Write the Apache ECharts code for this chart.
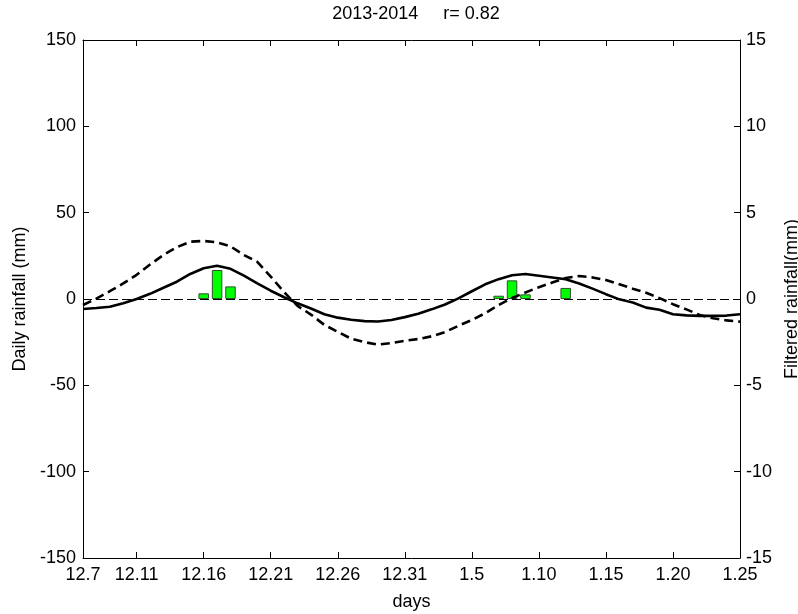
<!DOCTYPE html>
<html>
<head>
<meta charset="utf-8">
<script src="https://cdn.jsdelivr.net/npm/echarts@6/dist/echarts.min.js"></script>
<style>
html,body{margin:0;padding:0;background:#fff;}
#chart{width:798px;height:614px;}
</style>
</head>
<body>
<div id="chart"></div>
<script>
// Days (Dec 7, 2013 to Jan 25, 2014)
const days = ['12.7','12.8','12.9','12.10','12.11','12.12','12.13','12.14','12.15','12.16',
  '12.17','12.18','12.19','12.20','12.21','12.22','12.23','12.24','12.25','12.26',
  '12.27','12.28','12.29','12.30','12.31','1.1','1.2','1.3','1.4','1.5',
  '1.6','1.7','1.8','1.9','1.10','1.11','1.12','1.13','1.14','1.15',
  '1.16','1.17','1.18','1.19','1.20','1.21','1.22','1.23','1.24','1.25'];

// Daily rainfall (mm), left axis
const dailyRain = [null,null,null,null,null,null,null,null,null,3.3,
  16.8,7.3,null,null,null,null,null,null,null,null,
  null,null,null,null,null,null,null,null,null,null,
  null,1.9,10.8,2.7,null,null,6.4,null,null,null,
  null,null,null,null,null,null,null,null,null,null];

// Filtered series (right axis)
const solidSeries = [-0.58,-0.52,-0.45,-0.25,0.0,0.3,0.65,1.0,1.45,1.78,
  1.93,1.75,1.35,0.9,0.48,0.1,-0.25,-0.55,-0.88,-1.08,
  -1.2,-1.28,-1.3,-1.22,-1.05,-0.85,-0.6,-0.32,0.04,0.45,
  0.85,1.15,1.38,1.45,1.35,1.25,1.14,0.9,0.6,0.28,
  -0.02,-0.2,-0.5,-0.62,-0.88,-0.95,-0.98,-0.98,-0.96,-0.88];

const dashedSeries = [-0.35,0.02,0.45,0.9,1.4,2.0,2.55,3.0,3.32,3.36,
  3.28,3.05,2.55,2.15,1.3,0.4,-0.4,-0.9,-1.5,-1.9,
  -2.3,-2.5,-2.64,-2.55,-2.42,-2.32,-2.16,-1.92,-1.55,-1.22,
  -0.82,-0.35,0.06,0.38,0.68,0.95,1.22,1.33,1.25,1.1,
  0.85,0.6,0.36,0.05,-0.3,-0.6,-0.93,-1.12,-1.24,-1.31];

const leftTicks = {min:-150, max:150, interval:50};
const rightTicks = {min:-15, max:15, interval:5};
const titleText = '2013-2014     r= 0.82';

const FONT = "'Liberation Sans', Arial, Helvetica, sans-serif";
const tickShown = (i) => i === 0 || (i + 1) % 5 === 0;

const chart = echarts.init(document.getElementById('chart'), null, {renderer:'canvas'});
chart.setOption({
  animation:false,
  backgroundColor:'#fff',
  title:{
    text:titleText, left:411, top:0, textAlign:'center',
    textStyle:{fontFamily:FONT, fontSize:18, fontWeight:'normal', color:'#000'}
  },
  grid:{left:83, right:58, top:40, bottom:56, containLabel:false, outerBoundsMode:'none'},
  xAxis:[{
    type:'category', data:days, boundaryGap:false, position:'bottom',
    axisLine:{show:true, onZero:false, lineStyle:{color:'#000', width:1}},
    axisTick:{show:true, inside:true, length:6, interval:tickShown, lineStyle:{color:'#000'}},
    axisLabel:{interval:tickShown, color:'#000', fontSize:18, fontFamily:FONT, margin:8},
    splitLine:{show:false},
    name:'days', nameLocation:'middle', nameGap:35,
    nameTextStyle:{color:'#000', fontSize:18, fontFamily:FONT}
  },{
    type:'category', data:days, boundaryGap:false, position:'top',
    axisLine:{show:true, onZero:false, lineStyle:{color:'#000', width:1}},
    axisTick:{show:true, inside:true, length:6, interval:tickShown, lineStyle:{color:'#000'}},
    axisLabel:{show:false}, splitLine:{show:false}
  }],
  yAxis:[{
    type:'value', position:'left', min:leftTicks.min, max:leftTicks.max, interval:leftTicks.interval,
    axisLine:{show:true, onZero:false, lineStyle:{color:'#000', width:1}},
    axisTick:{show:true, inside:true, length:6, lineStyle:{color:'#000'}},
    axisLabel:{color:'#000', fontSize:18, fontFamily:FONT, margin:7},
    splitLine:{show:false},
    name:'Daily rainfall (mm)', nameLocation:'middle', nameGap:53, nameRotate:90,
    nameTextStyle:{color:'#000', fontSize:18, fontFamily:FONT}
  },{
    type:'value', position:'right', min:rightTicks.min, max:rightTicks.max, interval:rightTicks.interval,
    axisLine:{show:true, onZero:false, lineStyle:{color:'#000', width:1}},
    axisTick:{show:true, inside:true, length:6, lineStyle:{color:'#000'}},
    axisLabel:{color:'#000', fontSize:18, fontFamily:FONT, margin:6},
    splitLine:{show:false},
    name:'Filtered rainfall(mm)', nameLocation:'middle', nameGap:38, nameRotate:90,
    nameTextStyle:{color:'#000', fontSize:18, fontFamily:FONT}
  }],
  series:[{
    name:'Daily rainfall', type:'bar', xAxisIndex:0, yAxisIndex:0, data:dailyRain,
    barWidth:10.5,
    itemStyle:{color:'#00ff00', borderColor:'#2f4f2f', borderWidth:1},
    markLine:{
      silent:true, symbol:'none', label:{show:false},
      lineStyle:{color:'#000', width:1.2, type:[9,4]},
      data:[{yAxis:0}]
    },
    z:2
  },{
    name:'Filtered', type:'line', xAxisIndex:0, yAxisIndex:1, data:solidSeries,
    showSymbol:false, symbol:'none',
    lineStyle:{color:'#000', width:2.6}, z:3
  },{
    name:'Filtered 2', type:'line', xAxisIndex:0, yAxisIndex:1, data:dashedSeries,
    showSymbol:false, symbol:'none',
    lineStyle:{color:'#000', width:2.6, type:[9,5]}, z:3
  }]
});
</script>
</body>
</html>
